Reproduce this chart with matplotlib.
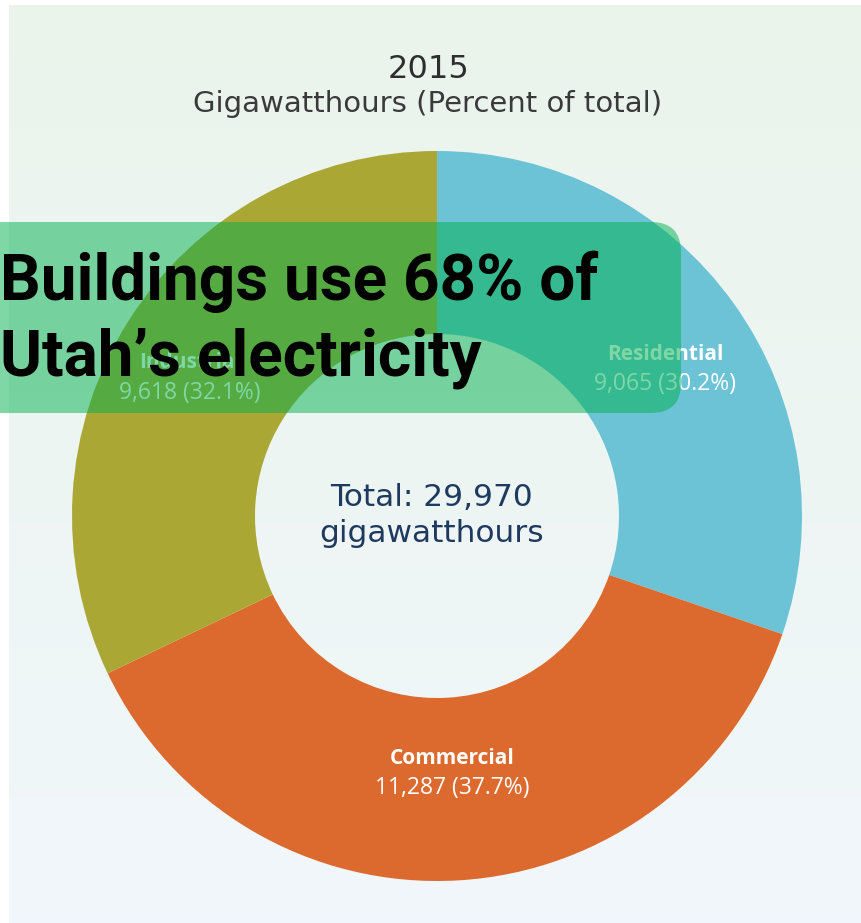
import numpy as np
import matplotlib
matplotlib.use("Agg")
import matplotlib.pyplot as plt
from matplotlib.patches import FancyBboxPatch

# Utah electricity consumption by sector, 2015 (gigawatthours)
sectors = ["Residential", "Commercial", "Industrial"]
gwh = [9065, 11287, 9618]
shares = [30.2, 37.7, 32.1]
total_gwh = 29970
year = "2015"
subtitle = "Gigawatthours (Percent of total)"
headline = "Buildings use 68% of\nUtah\u2019s electricity"
colors = ["#6cc3d6", "#dc6a2e", "#aba734"]

W, H = 861, 923
fig = plt.figure(figsize=(W / 100, H / 100), dpi=100, facecolor="white")
ax = fig.add_axes([0, 0, 1, 1])

# soft page background of the graphic
grad = np.linspace(0, 1, 256)[:, None]
top = np.array([0.918, 0.957, 0.922])
bot = np.array([0.945, 0.968, 0.985])
img = top[None, None, :] * (1 - grad[..., None]) + bot[None, None, :] * grad[..., None]
ax.imshow(img, extent=(9, W, 0, H - 5), origin="upper", aspect="auto", zorder=0)

cx, cy, r_out, r_in = 437, H - 516, 365, 182
wedges, _ = ax.pie(gwh, colors=colors, startangle=90, counterclock=False,
                   center=(cx, cy), radius=r_out,
                   wedgeprops=dict(width=r_out - r_in, linewidth=0))
for w in wedges:
    w.set_zorder(1)

ax.set_xlim(0, W)
ax.set_ylim(0, H)
ax.set_aspect("auto")
ax.axis("off")

# headings
ax.text(428, H - 70, year, ha="center", va="center", fontsize=23,
        family="DejaVu Sans", color="#2e2e2e", zorder=3)
ax.text(428, H - 104, subtitle, ha="center", va="center", fontsize=21,
        family="DejaVu Sans", color="#3a3a3a", zorder=3)

# centre total
ax.text(432, H - 497, f"Total: {total_gwh:,}", ha="center", va="center",
        fontsize=22.5, family="DejaVu Sans", color="#1f3a5f", zorder=3)
ax.text(432, H - 533, "gigawatthours", ha="center", va="center",
        fontsize=22.5, family="DejaVu Sans", color="#1f3a5f", zorder=3)

# slice labels
label_pos = {"Residential": (665, 355, 384),
             "Commercial": (452, 758, 788),
             "Industrial": (190, 362, 393)}
for name, v, s in zip(sectors, gwh, shares):
    x, y1, y2 = label_pos[name]
    ax.text(x, H - y1, name, ha="center", va="center", fontsize=15,
            family="Open Sans", fontweight="bold", color="white", zorder=3)
    ax.text(x, H - y2, f"{v:,} ({s}%)", ha="center", va="center", fontsize=16.5,
            family="Open Sans", color="white", zorder=3)

# translucent headline banner
banner = FancyBboxPatch((-60, H - 413), 741, 191,
                        boxstyle="round,pad=0,rounding_size=30",
                        facecolor="#00b04e", alpha=0.5, edgecolor="none", zorder=4)
ax.add_patch(banner)
ax.text(0, H - 320, headline, ha="left", va="center", fontsize=46,
        family="Roboto", fontweight="bold", color="black",
        linespacing=1.3, zorder=5)

fig.savefig("out.png", dpi=100, facecolor="white")
